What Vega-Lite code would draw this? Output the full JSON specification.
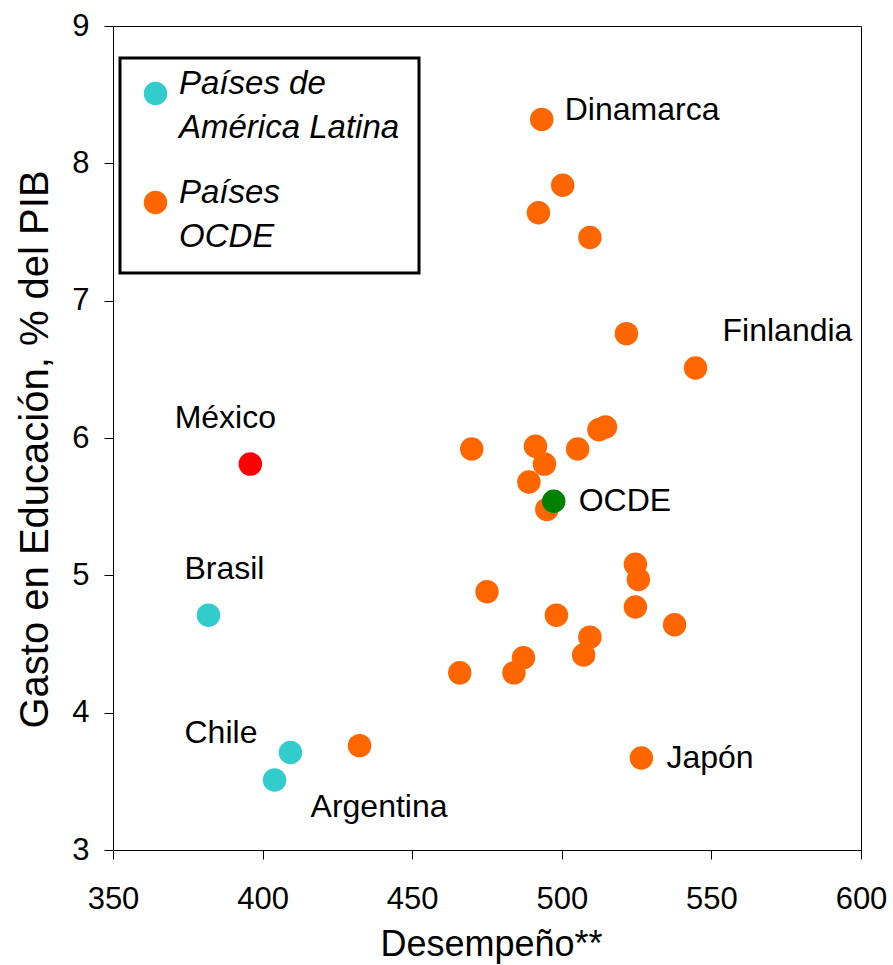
{
  "$schema": "https://vega.github.io/schema/vega-lite/v6.json",
  "width": 748,
  "height": 824,
  "autosize": {"type": "none"},
  "padding": {"left": 113, "top": 26, "right": 32, "bottom": 115},
  "background": "white",
  "config": {
    "font": "Liberation Sans",
    "view": {"stroke": "black", "strokeWidth": 1},
    "axis": {
      "domainColor": "black", "tickColor": "black", "labelColor": "black", "titleColor": "black",
      "grid": false, "labelFont": "Liberation Sans", "titleFont": "Liberation Sans",
      "labelFontSize": 31, "tickSize": 9, "titleFontWeight": "normal"
    },
    "legend": {"strokeWidth": 3}
  },
  "datasets": {
    "pts": [
      {"pais": "Dinamarca", "grupo": "Países OCDE", "desempeno": 493.3, "gasto": 8.32},
      {"pais": "", "grupo": "Países OCDE", "desempeno": 500.3, "gasto": 7.84},
      {"pais": "", "grupo": "Países OCDE", "desempeno": 492.2, "gasto": 7.64},
      {"pais": "", "grupo": "Países OCDE", "desempeno": 509.4, "gasto": 7.46},
      {"pais": "", "grupo": "Países OCDE", "desempeno": 521.6, "gasto": 6.76},
      {"pais": "Finlandia", "grupo": "Países OCDE", "desempeno": 544.7, "gasto": 6.51},
      {"pais": "", "grupo": "Países OCDE", "desempeno": 512.4, "gasto": 6.06},
      {"pais": "", "grupo": "Países OCDE", "desempeno": 514.6, "gasto": 6.08},
      {"pais": "", "grupo": "Países OCDE", "desempeno": 469.9, "gasto": 5.92},
      {"pais": "", "grupo": "Países OCDE", "desempeno": 491.2, "gasto": 5.94},
      {"pais": "", "grupo": "Países OCDE", "desempeno": 505.3, "gasto": 5.92},
      {"pais": "", "grupo": "Países OCDE", "desempeno": 494.2, "gasto": 5.81},
      {"pais": "", "grupo": "Países OCDE", "desempeno": 489.0, "gasto": 5.68},
      {"pais": "", "grupo": "Países OCDE", "desempeno": 495.0, "gasto": 5.48},
      {"pais": "", "grupo": "Países OCDE", "desempeno": 524.6, "gasto": 5.08},
      {"pais": "", "grupo": "Países OCDE", "desempeno": 525.6, "gasto": 4.97},
      {"pais": "", "grupo": "Países OCDE", "desempeno": 475.0, "gasto": 4.88},
      {"pais": "", "grupo": "Países OCDE", "desempeno": 524.6, "gasto": 4.77},
      {"pais": "", "grupo": "Países OCDE", "desempeno": 498.2, "gasto": 4.71},
      {"pais": "", "grupo": "Países OCDE", "desempeno": 537.7, "gasto": 4.64},
      {"pais": "", "grupo": "Países OCDE", "desempeno": 509.4, "gasto": 4.55},
      {"pais": "", "grupo": "Países OCDE", "desempeno": 507.3, "gasto": 4.42},
      {"pais": "", "grupo": "Países OCDE", "desempeno": 487.2, "gasto": 4.40},
      {"pais": "", "grupo": "Países OCDE", "desempeno": 484.0, "gasto": 4.29},
      {"pais": "", "grupo": "Países OCDE", "desempeno": 465.9, "gasto": 4.29},
      {"pais": "Japón", "grupo": "Países OCDE", "desempeno": 526.6, "gasto": 3.67},
      {"pais": "", "grupo": "Países OCDE", "desempeno": 432.4, "gasto": 3.76},
      {"pais": "Brasil", "grupo": "Países de América Latina", "desempeno": 381.9, "gasto": 4.71},
      {"pais": "Chile", "grupo": "Países de América Latina", "desempeno": 409.3, "gasto": 3.71},
      {"pais": "Argentina", "grupo": "Países de América Latina", "desempeno": 404.0, "gasto": 3.51},
      {"pais": "México", "grupo": "México", "desempeno": 395.9, "gasto": 5.81},
      {"pais": "OCDE", "grupo": "OCDE", "desempeno": 497.3, "gasto": 5.54}
    ]
  },
  "data": {"name": "pts"},
  "layer": [
    {
      "mark": {"type": "circle", "size": 550, "opacity": 1},
      "encoding": {
        "x": {
          "field": "desempeno", "type": "quantitative",
          "scale": {"domain": [350, 600], "nice": false, "zero": false},
          "axis": {
            "values": [350, 400, 450, 500, 550, 600], "title": "Desempeño**", "format": "d",
            "titleFontSize": 36, "titleX": 378, "titleY": 105, "titleBaseline": "alphabetic",
            "labelPadding": 25, "labelFlush": false
          }
        },
        "y": {
          "field": "gasto", "type": "quantitative",
          "scale": {"domain": [3, 9], "nice": false, "zero": false},
          "axis": {
            "values": [3, 4, 5, 6, 7, 8, 9], "title": "Gasto en Educación, % del PIB", "format": "d",
            "titleFontSize": 40, "titleX": -66, "titleY": 423, "titleBaseline": "alphabetic",
            "titleAlign": "center", "titleAngle": 270, "labelPadding": 15, "labelFlush": false
          }
        },
        "color": {
          "field": "grupo", "type": "nominal",
          "scale": {
            "domain": ["Países de América Latina", "Países OCDE", "México", "OCDE"],
            "range": ["#33CCCC", "#FF6600", "#FF0000", "#008000"]
          },
          "legend": {
            "orient": "none", "legendX": 7, "legendY": 32,
            "values": ["Países de América Latina", "Países OCDE"],
            "title": null,
            "labelExpr": "datum.label == 'Países OCDE' ? ['Países', 'OCDE'] : ['Países de', 'América Latina']",
            "labelFont": "Liberation Sans", "labelFontSize": 33, "labelFontStyle": "italic",
            "labelColor": "black", "labelBaseline": "alphabetic",
            "labelLimit": 400, "labelOffset": 7,
            "symbolSize": 550, "symbolType": "circle", "symbolStrokeWidth": 0, "symbolOpacity": 1,
            "strokeColor": "black", "fillColor": "white",
            "padding": 19, "rowPadding": 31,
            "encode": {"labels": {"update": {"lineHeight": {"value": 44}}}}
          }
        }
      }
    },
    {
      "transform": [{"filter": "datum.pais === 'Dinamarca'"}],
      "mark": {"type": "text", "align": "left", "baseline": "alphabetic", "dx": 23, "dy": 1, "fontSize": 32, "font": "Liberation Sans", "color": "black"},
      "encoding": {"x": {"field": "desempeno", "type": "quantitative"}, "y": {"field": "gasto", "type": "quantitative"}, "text": {"field": "pais"}}
    },
    {
      "transform": [{"filter": "datum.pais === 'Finlandia'"}],
      "mark": {"type": "text", "align": "left", "baseline": "alphabetic", "dx": 27, "dy": -27, "fontSize": 32, "font": "Liberation Sans", "color": "black"},
      "encoding": {"x": {"field": "desempeno", "type": "quantitative"}, "y": {"field": "gasto", "type": "quantitative"}, "text": {"field": "pais"}}
    },
    {
      "transform": [{"filter": "datum.pais === 'OCDE' || datum.pais === 'Japón'"}],
      "mark": {"type": "text", "align": "left", "baseline": "middle", "dx": 25, "dy": 0, "fontSize": 32, "font": "Liberation Sans", "color": "black"},
      "encoding": {"x": {"field": "desempeno", "type": "quantitative"}, "y": {"field": "gasto", "type": "quantitative"}, "text": {"field": "pais"}}
    },
    {
      "transform": [{"filter": "datum.pais === 'México'"}],
      "mark": {"type": "text", "align": "center", "baseline": "alphabetic", "dx": -25, "dy": -36, "fontSize": 32, "font": "Liberation Sans", "color": "black"},
      "encoding": {"x": {"field": "desempeno", "type": "quantitative"}, "y": {"field": "gasto", "type": "quantitative"}, "text": {"field": "pais"}}
    },
    {
      "transform": [{"filter": "datum.pais === 'Brasil'"}],
      "mark": {"type": "text", "align": "center", "baseline": "alphabetic", "dx": 16, "dy": -36, "fontSize": 32, "font": "Liberation Sans", "color": "black"},
      "encoding": {"x": {"field": "desempeno", "type": "quantitative"}, "y": {"field": "gasto", "type": "quantitative"}, "text": {"field": "pais"}}
    },
    {
      "transform": [{"filter": "datum.pais === 'Chile'"}],
      "mark": {"type": "text", "align": "right", "baseline": "alphabetic", "dx": -33, "dy": -9, "fontSize": 32, "font": "Liberation Sans", "color": "black"},
      "encoding": {"x": {"field": "desempeno", "type": "quantitative"}, "y": {"field": "gasto", "type": "quantitative"}, "text": {"field": "pais"}}
    },
    {
      "transform": [{"filter": "datum.pais === 'Argentina'"}],
      "mark": {"type": "text", "align": "left", "baseline": "alphabetic", "dx": 36, "dy": 37, "fontSize": 32, "font": "Liberation Sans", "color": "black"},
      "encoding": {"x": {"field": "desempeno", "type": "quantitative"}, "y": {"field": "gasto", "type": "quantitative"}, "text": {"field": "pais"}}
    }
  ]
}
